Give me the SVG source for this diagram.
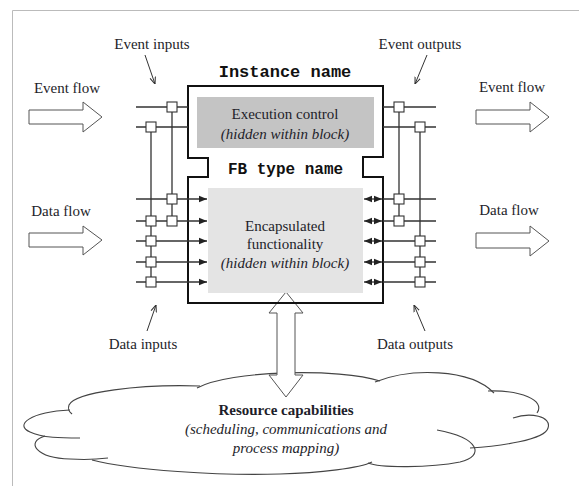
<svg xmlns="http://www.w3.org/2000/svg" width="579" height="486" viewBox="0 0 579 486">
<defs>
<style>
.t{font-family:'Liberation Serif','DejaVu Serif',serif;font-size:15px;fill:#1e1e2a}
.i{font-style:italic}
.b{font-weight:bold}
.m{font-family:'Liberation Mono','DejaVu Sans Mono',monospace;font-weight:bold;font-size:17px;fill:#111}
.ln{stroke:#333;stroke-width:1.3;fill:none}
.sq{fill:#fff;stroke:#333;stroke-width:1.1}
.fa{fill:#fff;stroke:#555;stroke-width:1}
.cl{fill:none;stroke:#444;stroke-width:1.1}
.pt{stroke:#333;stroke-width:1;fill:none}
</style>
<marker id="ah" viewBox="0 0 10 10" refX="10" refY="5" markerWidth="8" markerHeight="8" orient="auto-start-reverse" markerUnits="userSpaceOnUse">
<path d="M0,1 L10,5 L0,9 Z" fill="#222"/>
</marker>
<marker id="pa" viewBox="0 0 10 10" refX="10" refY="5" markerWidth="7" markerHeight="7" orient="auto" markerUnits="userSpaceOnUse">
<path d="M0,1 L10,5 L0,9" fill="none" stroke="#333" stroke-width="1.5"/>
</marker>
</defs>
<rect width="579" height="486" fill="#fff"/>
<path d="M12.5,486 V10.5 H579" fill="none" stroke="#bbb" stroke-width="1"/>

<g id="cloud">
<path class="cl" d="M200,386 C140,384 75,392 69,405 C67,411 71,413 72,414"/>
<path class="cl" d="M70,410 C30,412 14,425 30,432 C42,438 62,438 80,438"/>
<path class="cl" d="M45,436 C25,442 36,458 70,459 C85,460 100,459 108,458"/>
<path class="cl" d="M92,460 C130,470 220,476 280,474 C320,473 360,468 372,462"/>
<path class="cl" d="M368,463 C380,468 430,468 460,462 C485,456 480,438 437,430"/>
<path class="cl" d="M470,448 C500,446 545,440 548,428 C552,416 530,412 513,418"/>
<path class="cl" d="M537,413 C546,400 520,390 488,391"/>
<path class="cl" d="M494,393 C470,368 410,368 375,382"/>
<path class="cl" d="M380,381 C340,368 230,370 197,388"/>
<text class="t b" x="286" y="415" text-anchor="middle">Resource capabilities</text>
<text class="t i" x="286" y="434" text-anchor="middle">(scheduling, communications and</text>
<text class="t i" x="286" y="453" text-anchor="middle">process mapping)</text>
</g>

<g id="resource-arrow">
<path class="fa" stroke="#444" d="M286,292 L303,313 L295,313 L295,375 L303,375 L286,397 L269,375 L277,375 L277,313 L269,313 Z"/>
</g>

<g id="fb-block">
<rect x="197" y="97" width="177" height="51" fill="#c4c4c4"/>
<rect x="208" y="188" width="155" height="105" fill="#e4e4e4"/>
<path d="M188,86 H383 V157 H363 V177 H383 V303 H188 V177 H208 V158 H188 Z" fill="none" stroke="#111" stroke-width="2"/>
<text class="m" x="285" y="77" text-anchor="middle">Instance name</text>
<text class="m" x="285.5" y="174" text-anchor="middle" style="font-size:16px">FB type name</text>
<text class="t" x="285" y="119" text-anchor="middle">Execution control</text>
<text class="t i" x="285" y="139" text-anchor="middle">(hidden within block)</text>
<text class="t" x="285" y="231" text-anchor="middle">Encapsulated</text>
<text class="t" x="285" y="249" text-anchor="middle">functionality</text>
<text class="t i" x="285" y="268" text-anchor="middle">(hidden within block)</text>
</g>

<g id="connectors">
<path class="ln" d="M136,107 H188 M136,127 H188"/>
<path class="ln" d="M136,199 H207" marker-end="url(#ah)"/>
<path class="ln" d="M136,221 H207" marker-end="url(#ah)"/>
<path class="ln" d="M136,241 H207" marker-end="url(#ah)"/>
<path class="ln" d="M136,262 H207" marker-end="url(#ah)"/>
<path class="ln" d="M136,282 H207" marker-end="url(#ah)"/>
<path class="ln" d="M172,107 V221 M151,127 V282"/>
<path class="ln" d="M383,107 H436 M383,127 H436"/>
<path class="ln" d="M383,199 H436 M383,221 H436 M383,241 H436 M383,262 H436 M383,282 H436"/>
<path class="ln" d="M364,199 H382" marker-start="url(#ah)" marker-end="url(#ah)"/>
<path class="ln" d="M364,221 H382" marker-start="url(#ah)" marker-end="url(#ah)"/>
<path class="ln" d="M364,241 H382" marker-start="url(#ah)" marker-end="url(#ah)"/>
<path class="ln" d="M364,262 H382" marker-start="url(#ah)" marker-end="url(#ah)"/>
<path class="ln" d="M364,282 H382" marker-start="url(#ah)" marker-end="url(#ah)"/>
<path class="ln" d="M399,107 V221 M420,127 V282"/>
<rect class="sq" x="167" y="102" width="10" height="10"/>
<rect class="sq" x="146" y="122" width="10" height="10"/>
<rect class="sq" x="167" y="194" width="10" height="10"/>
<rect class="sq" x="146" y="216" width="10" height="10"/>
<rect class="sq" x="167" y="216" width="10" height="10"/>
<rect class="sq" x="146" y="236" width="10" height="10"/>
<rect class="sq" x="146" y="257" width="10" height="10"/>
<rect class="sq" x="146" y="277" width="10" height="10"/>
<rect class="sq" x="394" y="102" width="10" height="10"/>
<rect class="sq" x="415" y="122" width="10" height="10"/>
<rect class="sq" x="394" y="194" width="10" height="10"/>
<rect class="sq" x="394" y="216" width="10" height="10"/>
<rect class="sq" x="415" y="236" width="10" height="10"/>
<rect class="sq" x="415" y="257" width="10" height="10"/>
<rect class="sq" x="415" y="277" width="10" height="10"/>
<path class="pt" d="M145,55 L155,84" marker-end="url(#pa)"/>
<path class="pt" d="M427,55 L415,84" marker-end="url(#pa)"/>
<path class="pt" d="M147,331 L156,305" marker-end="url(#pa)"/>
<path class="pt" d="M425,331 L414,305" marker-end="url(#pa)"/>
</g>

<g id="labels">
<text class="t" x="152" y="49" text-anchor="middle">Event inputs</text>
<text class="t" x="420" y="49" text-anchor="middle">Event outputs</text>
<text class="t" x="143" y="349" text-anchor="middle">Data inputs</text>
<text class="t" x="415" y="349" text-anchor="middle">Data outputs</text>
</g>

<g id="flow-arrows">
<text class="t" x="67" y="93" text-anchor="middle">Event flow</text>
<path class="fa" d="M29,110 H83 V102 L102,117 L83,132 V124 H29 Z"/>
<text class="t" x="61" y="216" text-anchor="middle">Data flow</text>
<path class="fa" d="M29,233 H83 V226 L102,240 L83,255 V247 H29 Z"/>
<text class="t" x="512" y="92" text-anchor="middle">Event flow</text>
<path class="fa" d="M476,110 H530 V102 L549,117 L530,132 V124 H476 Z"/>
<text class="t" x="509" y="215" text-anchor="middle">Data flow</text>
<path class="fa" d="M476,233 H530 V226 L549,241 L530,256 V248 H476 Z"/>
</g>
</svg>
